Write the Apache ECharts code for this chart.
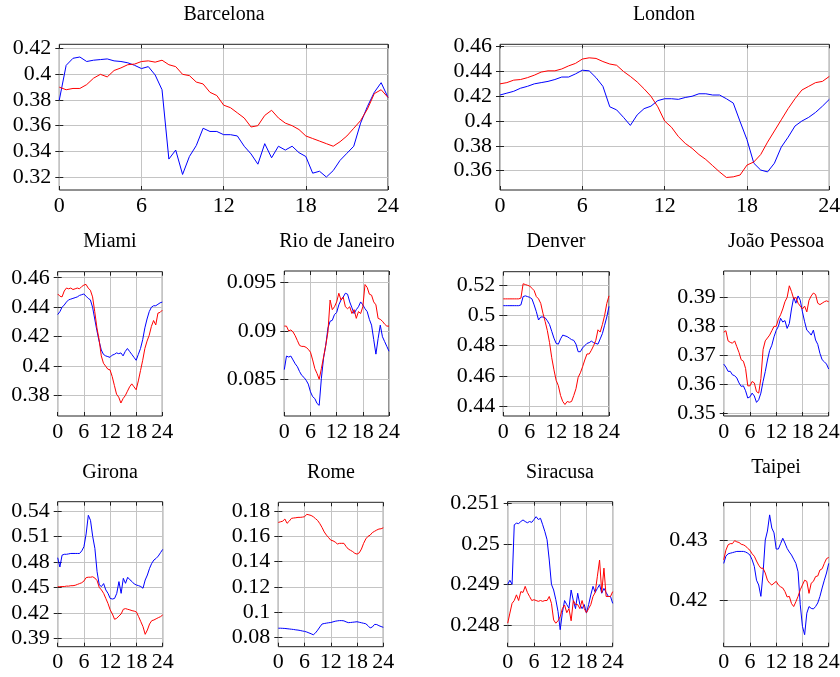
<!DOCTYPE html>
<html>
<head>
<meta charset="utf-8">
<script src="https://cdn.jsdelivr.net/npm/echarts@6/dist/echarts.min.js"></script>
<style>
html, body { margin: 0; padding: 0; background: #fff; }
#chart { width: 840px; height: 677px; }
</style>
</head>
<body>
<div id="chart"></div>
<script>
// hour of day, sampled every half hour
var hours = [0, 0.5, 1, 1.5, 2, 2.5, 3, 3.5, 4, 4.5, 5, 5.5, 6, 6.5, 7, 7.5, 8, 8.5, 9, 9.5,
  10, 10.5, 11, 11.5, 12, 12.5, 13, 13.5, 14, 14.5, 15, 15.5, 16, 16.5, 17, 17.5, 18, 18.5, 19, 19.5,
  20, 20.5, 21, 21.5, 22, 22.5, 23, 23.5, 24];
var hourTicks = [0, 6, 12, 18, 24];

var barcelonaBlue = [0.380, 0.407, 0.4125, 0.4135, 0.410, 0.411, 0.4115, 0.412, 0.4105, 0.410,
  0.409, 0.407, 0.4045, 0.406, 0.3995, 0.388, 0.334, 0.341, 0.322, 0.336,
  0.3445, 0.358, 0.3555, 0.3555, 0.353, 0.353, 0.352, 0.344, 0.338, 0.330,
  0.346, 0.335, 0.344, 0.341, 0.344, 0.339, 0.336, 0.323, 0.3245, 0.320,
  0.325, 0.333, 0.3385, 0.344, 0.362, 0.375, 0.386, 0.3935, 0.382];
var barcelonaRed = [0.390, 0.388, 0.389, 0.389, 0.392, 0.397, 0.400, 0.398, 0.403, 0.405,
  0.4075, 0.408, 0.410, 0.4105, 0.4095, 0.411, 0.4075, 0.406, 0.400, 0.399,
  0.394, 0.3925, 0.386, 0.3835, 0.376, 0.374, 0.370, 0.366, 0.359, 0.360,
  0.368, 0.372, 0.366, 0.362, 0.360, 0.357, 0.352, 0.350, 0.348, 0.346,
  0.344, 0.3475, 0.352, 0.358, 0.364, 0.373, 0.385, 0.388, 0.382];
var barcelonaTicks = [0.32, 0.34, 0.36, 0.38, 0.40, 0.42];

var londonBlue = [0.421, 0.4225, 0.424, 0.4265, 0.428, 0.430, 0.431, 0.432, 0.4335, 0.4355,
  0.4355, 0.438, 0.441, 0.4405, 0.435, 0.428, 0.4115, 0.409, 0.403, 0.3965,
  0.405, 0.410, 0.412, 0.4165, 0.418, 0.418, 0.4175, 0.419, 0.420, 0.422,
  0.422, 0.421, 0.421, 0.418, 0.4145, 0.3995, 0.385, 0.366, 0.3605, 0.359,
  0.366, 0.379, 0.387, 0.396, 0.400, 0.403, 0.407, 0.412, 0.4175];
var londonRed = [0.430, 0.431, 0.433, 0.4335, 0.435, 0.437, 0.4395, 0.4405, 0.4405, 0.442,
  0.4445, 0.4465, 0.450, 0.451, 0.4505, 0.448, 0.446, 0.445, 0.440, 0.436,
  0.4315, 0.426, 0.420, 0.4115, 0.400, 0.395, 0.3875, 0.382, 0.378, 0.373,
  0.369, 0.364, 0.359, 0.3545, 0.355, 0.3565, 0.3645, 0.367, 0.373, 0.383,
  0.392, 0.401, 0.410, 0.418, 0.425, 0.428, 0.431, 0.432, 0.436];
var londonTicks = [0.36, 0.38, 0.40, 0.42, 0.44, 0.46];

var miamiBlue = [0.435, 0.437, 0.440, 0.4415, 0.4435, 0.445, 0.4455, 0.446, 0.4465, 0.447,
  0.448, 0.4485, 0.449, 0.4475, 0.446, 0.445, 0.440, 0.432, 0.424, 0.417,
  0.411, 0.408, 0.407, 0.4065, 0.406, 0.4075, 0.408, 0.409, 0.4085, 0.409,
  0.407, 0.410, 0.412, 0.410, 0.408, 0.406, 0.404, 0.408, 0.412, 0.418,
  0.426, 0.432, 0.437, 0.440, 0.441, 0.441, 0.442, 0.443, 0.4435];
var miamiRed = [0.449, 0.4475, 0.447, 0.451, 0.453, 0.4525, 0.453, 0.452, 0.4525, 0.453,
  0.4525, 0.454, 0.455, 0.4555, 0.453, 0.4515, 0.447, 0.437, 0.426, 0.418,
  0.407, 0.402, 0.400, 0.398, 0.3975, 0.393, 0.387, 0.381, 0.379, 0.375,
  0.378, 0.380, 0.383, 0.386, 0.388, 0.386, 0.384, 0.390, 0.397, 0.404,
  0.412, 0.417, 0.421, 0.427, 0.431, 0.428, 0.436, 0.4365, 0.438];
var miamiTicks = [0.38, 0.40, 0.42, 0.44, 0.46];

var rioBlue = [0.0860, 0.0874, 0.0873, 0.0874, 0.0870, 0.0866, 0.0863, 0.0858, 0.0854, 0.0852,
  0.0849, 0.0845, 0.0837, 0.0832, 0.0830, 0.0825, 0.0823, 0.0851, 0.0872, 0.0885,
  0.0903, 0.0910, 0.0911, 0.0917, 0.0919, 0.0927, 0.0932, 0.0935, 0.0939, 0.0938,
  0.0930, 0.0924, 0.0918, 0.0922, 0.0925, 0.0930, 0.0927, 0.0923, 0.0920, 0.0912,
  0.0906, 0.0891, 0.0876, 0.0892, 0.0906, 0.0894, 0.0889, 0.0884, 0.0879];
var rioRed = [0.0905, 0.0905, 0.0900, 0.0901, 0.0899, 0.0895, 0.0890, 0.0885, 0.0884, 0.0884,
  0.0883, 0.0881, 0.0878, 0.0870, 0.0861, 0.0856, 0.0850, 0.0861, 0.0873, 0.0885,
  0.0899, 0.0932, 0.0922, 0.0925, 0.0930, 0.0939, 0.0932, 0.0935, 0.0925, 0.0923,
  0.0925, 0.0918, 0.0922, 0.0913, 0.0920, 0.0918, 0.0925, 0.0948, 0.0945, 0.0938,
  0.0937, 0.0930, 0.0927, 0.0913, 0.0912, 0.0910, 0.0907, 0.0905, 0.0905];
var rioTicks = [0.085, 0.09, 0.095];

var denverBlue = [0.5065, 0.5065, 0.5065, 0.5065, 0.5065, 0.5065, 0.5065, 0.5065, 0.507, 0.5125,
  0.513, 0.5125, 0.512, 0.511, 0.507, 0.5025, 0.497, 0.499, 0.499, 0.4985,
  0.4965, 0.494, 0.4895, 0.485, 0.4815, 0.481, 0.4845, 0.487, 0.4865, 0.486,
  0.485, 0.484, 0.4835, 0.481, 0.476, 0.476, 0.4785, 0.480, 0.4815, 0.482,
  0.483, 0.482, 0.4815, 0.481, 0.4845, 0.488, 0.4935, 0.499, 0.506];
var denverRed = [0.511, 0.511, 0.511, 0.511, 0.511, 0.511, 0.511, 0.511, 0.5115, 0.521,
  0.5205, 0.520, 0.5195, 0.518, 0.5165, 0.5125, 0.511, 0.508, 0.5015, 0.496,
  0.490, 0.482, 0.472, 0.464, 0.457, 0.4535, 0.447, 0.443, 0.441, 0.443,
  0.4425, 0.443, 0.447, 0.4515, 0.459, 0.462, 0.466, 0.4705, 0.4745, 0.4745,
  0.477, 0.480, 0.4835, 0.4905, 0.489, 0.494, 0.500, 0.508, 0.513];
var denverTicks = [0.44, 0.46, 0.48, 0.50, 0.52];

var pessoaBlue = [0.367, 0.366, 0.3645, 0.3645, 0.3633, 0.363, 0.3622, 0.3605, 0.3593, 0.3595,
  0.3578, 0.3553, 0.3557, 0.357, 0.356, 0.3538, 0.3547, 0.357, 0.361, 0.3644,
  0.3684, 0.3717, 0.3735, 0.3764, 0.3786, 0.380, 0.3828, 0.3815, 0.382, 0.3793,
  0.381, 0.386, 0.390, 0.388, 0.3905, 0.389, 0.385, 0.3816, 0.3787, 0.378,
  0.377, 0.3787, 0.3753, 0.3738, 0.3707, 0.3685, 0.3678, 0.367, 0.3653];
var pessoaRed = [0.378, 0.3785, 0.375, 0.3745, 0.3742, 0.375, 0.373, 0.371, 0.3685, 0.368,
  0.3655, 0.3595, 0.3595, 0.361, 0.3605, 0.3575, 0.357, 0.362, 0.372, 0.375,
  0.376, 0.377, 0.3785, 0.380, 0.380, 0.3825, 0.384, 0.386, 0.3885, 0.390,
  0.394, 0.392, 0.3895, 0.390, 0.388, 0.387, 0.386, 0.387, 0.385, 0.389,
  0.3905, 0.3915, 0.391, 0.388, 0.3875, 0.388, 0.3885, 0.3888, 0.3885];
var pessoaTicks = [0.35, 0.36, 0.37, 0.38, 0.39];

var gironaBlue = [0.485, 0.474, 0.488, 0.489, 0.489, 0.4895, 0.490, 0.490, 0.490, 0.490,
  0.490, 0.493, 0.498, 0.513, 0.535, 0.529, 0.510, 0.496, 0.4685, 0.453,
  0.451, 0.4545, 0.447, 0.443, 0.437, 0.4363, 0.437, 0.443, 0.4568, 0.443,
  0.4607, 0.4548, 0.4619, 0.459, 0.4568, 0.454, 0.4528, 0.452, 0.451, 0.449,
  0.4587, 0.4646, 0.4725, 0.4784, 0.4823, 0.4842, 0.487, 0.4909, 0.4948];
var gironaRed = [0.4508, 0.4508, 0.451, 0.451, 0.4515, 0.4515, 0.452, 0.452, 0.4525, 0.4535,
  0.4545, 0.4555, 0.4575, 0.4615, 0.462, 0.462, 0.4625, 0.461, 0.458, 0.450,
  0.447, 0.443, 0.437, 0.431, 0.4235, 0.4187, 0.4124, 0.4136, 0.4163, 0.4187,
  0.4242, 0.425, 0.4242, 0.4235, 0.4226, 0.422, 0.421, 0.4155, 0.4096, 0.4037,
  0.3947, 0.3998, 0.4069, 0.4108, 0.4116, 0.413, 0.4143, 0.4155, 0.4175];
var gironaTicks = [0.39, 0.42, 0.45, 0.48, 0.51, 0.54];

var romeBlue = [0.0875, 0.0875, 0.0874, 0.0873, 0.0871, 0.0869, 0.0867, 0.0865, 0.0862, 0.0860,
  0.0857, 0.0853, 0.0850, 0.0845, 0.0838, 0.0831, 0.0823, 0.0838, 0.0860, 0.0885,
  0.0908, 0.0912, 0.0915, 0.0918, 0.0920, 0.0925, 0.0930, 0.0933, 0.0935, 0.0935,
  0.0933, 0.0925, 0.0919, 0.0920, 0.0922, 0.0924, 0.0926, 0.0922, 0.0918, 0.0914,
  0.0910, 0.0895, 0.0877, 0.0885, 0.0905, 0.0904, 0.0895, 0.0888, 0.0882];
var romeRed = [0.171, 0.1715, 0.172, 0.1737, 0.1703, 0.172, 0.1742, 0.1745, 0.1747, 0.175,
  0.175, 0.1752, 0.1755, 0.1774, 0.177, 0.1765, 0.1755, 0.174, 0.1725, 0.170,
  0.167, 0.1635, 0.161, 0.159, 0.157, 0.1565, 0.1555, 0.154, 0.1545, 0.1545,
  0.1545, 0.152, 0.150, 0.149, 0.148, 0.1466, 0.146, 0.147, 0.150, 0.1545,
  0.158, 0.160, 0.161, 0.163, 0.164, 0.165, 0.1658, 0.166, 0.1668];
var romeTicks = [0.08, 0.10, 0.12, 0.14, 0.16, 0.18];

var siracusaBlue = [0.2490, 0.2491, 0.2490, 0.25047, 0.25051, 0.2505, 0.25055, 0.25059, 0.25055, 0.25052,
  0.25055, 0.25053, 0.2506, 0.25067, 0.2506, 0.25063, 0.25047, 0.2503, 0.2501, 0.2496,
  0.2490, 0.24886, 0.24862, 0.24833, 0.24788, 0.2483, 0.2486, 0.2485, 0.24841, 0.24886,
  0.2486, 0.2484, 0.24878, 0.2485, 0.2484, 0.2485, 0.24829, 0.2485, 0.24874, 0.24895,
  0.2488, 0.2489, 0.24899, 0.24878, 0.2489, 0.2488, 0.2487, 0.2487, 0.24853];
var siracusaRed = [0.24804, 0.24829, 0.24853, 0.2486, 0.24874, 0.2486, 0.24882, 0.2488, 0.24895, 0.2488,
  0.2487, 0.2486, 0.24862, 0.2486, 0.24858, 0.2486, 0.24858, 0.2486, 0.2486, 0.2487,
  0.24853, 0.24812, 0.24804, 0.2481, 0.2482, 0.2484, 0.24849, 0.2483, 0.2484, 0.2481,
  0.2486, 0.2485, 0.2485, 0.2484, 0.2486, 0.2484, 0.2483, 0.2484, 0.2485, 0.2487,
  0.2488, 0.2492, 0.2496, 0.2488, 0.2494, 0.2487, 0.2487, 0.2487, 0.24882];
var siracusaTicks = [0.248, 0.249, 0.25, 0.251];

var taipeiBlue = [0.4261, 0.4273, 0.4277, 0.4278, 0.4279, 0.428, 0.4281, 0.4281, 0.4281, 0.4281,
  0.428, 0.4278, 0.4275, 0.4267, 0.4256, 0.4233, 0.4225, 0.4206, 0.4245, 0.4300,
  0.4315, 0.4342, 0.4320, 0.4312, 0.4285, 0.4285, 0.4294, 0.4303, 0.4295, 0.4286,
  0.428, 0.4275, 0.4268, 0.4261, 0.4247, 0.4192, 0.4156, 0.4142, 0.4178, 0.4189,
  0.4186, 0.4185, 0.4189, 0.4195, 0.4206, 0.422, 0.4233, 0.4245, 0.4261];
var taipeiRed = [0.4267, 0.4283, 0.4292, 0.4294, 0.4294, 0.4299, 0.4297, 0.4296, 0.4293, 0.4292,
  0.429, 0.4286, 0.4283, 0.4277, 0.4273, 0.4265, 0.4258, 0.4253, 0.4253, 0.4245,
  0.4233, 0.4228, 0.4225, 0.4228, 0.4231, 0.4225, 0.4222, 0.422, 0.4214, 0.4205,
  0.4206, 0.4194, 0.4189, 0.4197, 0.4206, 0.4217, 0.4225, 0.4233, 0.4231, 0.4211,
  0.4228, 0.4231, 0.4239, 0.424, 0.425, 0.4252, 0.4261, 0.4269, 0.4271];
var taipeiTicks = [0.42, 0.43];

// layout: plot box [left, top, width, height], y range, title centre
var panels = [
  { name: 'Barcelona', blue: barcelonaBlue, red: barcelonaRed, ticks: barcelonaTicks, min: 0.3099, max: 0.4234, box: [59.3, 44.3, 328.7, 145.7], title: [224, 15] },
  { name: 'London', blue: londonBlue, red: londonRed, ticks: londonTicks, min: 0.3444, max: 0.4619, box: [500, 44.3, 329.3, 145.7], title: [664, 15] },
  { name: 'Miami', blue: miamiBlue, red: miamiRed, ticks: miamiTicks, min: 0.3662, max: 0.4641, box: [57.7, 271.7, 104.6, 144.3], title: [110, 242] },
  { name: 'Rio de Janeiro', blue: rioBlue, red: rioRed, ticks: rioTicks, min: 0.0812, max: 0.0962, box: [284.3, 271, 104.7, 145], title: [337, 242] },
  { name: 'Denver', blue: denverBlue, red: denverRed, ticks: denverTicks, min: 0.4334, max: 0.529, box: [503.3, 271.7, 105.7, 144.3], title: [556, 242] },
  { name: 'João Pessoa', blue: pessoaBlue, red: pessoaRed, ticks: pessoaTicks, min: 0.3491, max: 0.3991, box: [723.7, 271, 105, 145], title: [776, 242] },
  { name: 'Girona', blue: gironaBlue, red: gironaRed, ticks: gironaTicks, min: 0.3801, max: 0.551, box: [57.7, 501.7, 105, 145], title: [110, 473] },
  { name: 'Rome', blue: romeBlue, red: romeRed, ticks: romeTicks, min: 0.0729, max: 0.1869, box: [278.3, 502.3, 105, 144.4], title: [331, 473] },
  { name: 'Siracusa', blue: siracusaBlue, red: siracusaRed, ticks: siracusaTicks, min: 0.24746, max: 0.25104, box: [507.7, 501.7, 105, 145], title: [560, 473] },
  { name: 'Taipei', blue: taipeiBlue, red: taipeiRed, ticks: taipeiTicks, min: 0.4122, max: 0.4363, box: [723.7, 502.3, 105, 144.4], title: [776, 468], labelGap: 16 }
];

var FONT = 'Liberation Serif';
var tickStyle = { show: true, inside: true, length: 4, lineStyle: { color: '#222' } };

function pairs(ys) {
  return hours.map(function (h, i) { return [h, ys[i]]; });
}
function fmt(v) {
  return String(+(+v).toFixed(4));
}

var grids = [], xAxes = [], yAxes = [], series = [], graphics = [];

panels.forEach(function (p, i) {
  grids.push({
    left: p.box[0], top: p.box[1], width: p.box[2], height: p.box[3],
    show: true, borderColor: '#222', borderWidth: 1, outerBoundsMode: 'none'
  });
  // bottom + top x axes
  xAxes.push({
    type: 'value', gridIndex: i, min: 0, max: 24, position: 'bottom',
    axisLine: { show: false },
    axisTick: Object.assign({ customValues: hourTicks }, tickStyle),
    axisLabel: { customValues: hourTicks, margin: 5, color: '#000', fontFamily: FONT, fontSize: 22 },
    splitLine: { show: true, lineStyle: { color: '#c4c4c4', width: 1 } }
  });
  xAxes.push({
    type: 'value', gridIndex: i, min: 0, max: 24, position: 'top',
    axisLine: { show: false },
    axisTick: Object.assign({ customValues: hourTicks }, tickStyle),
    axisLabel: { show: false }, splitLine: { show: false }
  });
  // left + right y axes
  yAxes.push({
    type: 'value', gridIndex: i, min: p.min, max: p.max, position: 'left',
    axisLine: { show: false },
    axisTick: Object.assign({ customValues: p.ticks }, tickStyle),
    axisLabel: { customValues: p.ticks, margin: p.labelGap || 8, color: '#000', fontFamily: FONT, fontSize: 22, formatter: fmt },
    splitLine: { show: true, lineStyle: { color: '#c4c4c4', width: 1 } }
  });
  yAxes.push({
    type: 'value', gridIndex: i, min: p.min, max: p.max, position: 'right',
    axisLine: { show: false },
    axisTick: Object.assign({ customValues: p.ticks }, tickStyle),
    axisLabel: { show: false }, splitLine: { show: false }
  });

  series.push({
    type: 'line', xAxisIndex: 2 * i, yAxisIndex: 2 * i, data: pairs(p.blue),
    showSymbol: false, lineStyle: { color: '#0000ff', width: 1 }, itemStyle: { color: '#0000ff' }, animation: false
  });
  series.push({
    type: 'line', xAxisIndex: 2 * i, yAxisIndex: 2 * i, data: pairs(p.red),
    showSymbol: false, lineStyle: { color: '#ff0000', width: 1 }, itemStyle: { color: '#ff0000' }, animation: false
  });

  graphics.push({
    type: 'text', x: p.title[0], y: p.title[1],
    style: { text: p.name, fontFamily: FONT, fontSize: 20, fill: '#000', textAlign: 'center', textVerticalAlign: 'middle' }
  });
});

var chart = echarts.init(document.getElementById('chart'), null, { renderer: 'canvas' });
chart.setOption({
  backgroundColor: '#fff',
  animation: false,
  grid: grids,
  xAxis: xAxes,
  yAxis: yAxes,
  series: series,
  graphic: graphics
});
</script>
</body>
</html>
